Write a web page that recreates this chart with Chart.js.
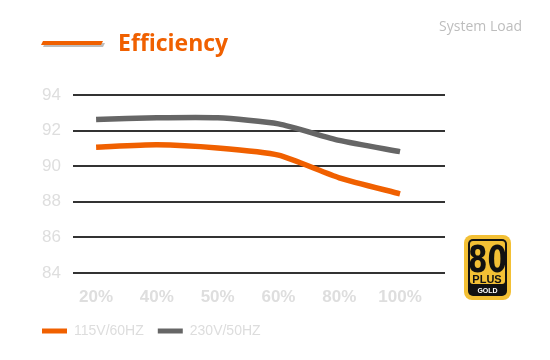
<!DOCTYPE html>
<html>
<head>
<meta charset="utf-8">
<script src="https://cdn.jsdelivr.net/npm/chart.js@4"></script>
<style>
html,body{margin:0;padding:0;background:#fff;}
#wrap{width:550px;height:360px;position:relative;}
</style>
</head>
<body>
<div id="wrap"><canvas id="c" width="550" height="360"></canvas></div>
<script>
const categories = ["20%", "40%", "50%", "60%", "80%", "100%"];
const series115 = [91.07, 91.2, 91.02, 90.62, 89.35, 88.45];
const series230 = [92.62, 92.72, 92.72, 92.38, 91.45, 90.82];
const yTicks = [84, 86, 88, 90, 92, 94];
const seriesNames = ["115V/60HZ", "230V/50HZ"];
const titleText = "Efficiency";
const subtitleText = "System Load";

const ORANGE = "#f06000";
const GREY = "#666666";

const decor = {
  id: "decor",
  afterDraw(chart) {
    const ctx = chart.ctx;
    ctx.save();
    // title decoration bar with shadow
    ctx.fillStyle = "#bdbdbd";
    ctx.beginPath();
    ctx.moveTo(45, 43); ctx.lineTo(105, 43); ctx.lineTo(103, 47); ctx.lineTo(43, 47); ctx.closePath(); ctx.fill();
    ctx.fillStyle = ORANGE;
    ctx.beginPath();
    ctx.moveTo(43, 41); ctx.lineTo(103, 41); ctx.lineTo(101, 45); ctx.lineTo(41, 45); ctx.closePath(); ctx.fill();
    // title
    ctx.fillStyle = ORANGE;
    ctx.font = "bold 23px 'Open Sans', sans-serif";
    ctx.textBaseline = "middle";
    ctx.textAlign = "left";
    ctx.fillText(titleText, 118, 44);
    // subtitle
    ctx.fillStyle = "#bdbdbd";
    ctx.font = "14px 'Open Sans', sans-serif";
    ctx.textAlign = "right";
    ctx.fillText(subtitleText, 522, 27);
    // 80 PLUS GOLD badge
    const rr = (x, y, w, h, r) => { ctx.beginPath(); ctx.roundRect(x, y, w, h, r); };
    ctx.fillStyle = "#f3c035";
    rr(464, 235, 47, 65, 8); ctx.fill();
    ctx.fillStyle = "#111";
    rr(468, 239, 39, 57, 5); ctx.fill();
    ctx.fillStyle = "#f3c035";
    rr(470, 241, 35, 43, 3); ctx.fill();
    ctx.fillStyle = "#111";
    ctx.textAlign = "center";
    ctx.textBaseline = "alphabetic";
    ctx.font = "bold 38px 'Liberation Sans Narrow', 'DejaVu Sans Condensed', sans-serif";
    ctx.save();
    ctx.translate(487.5, 272);
    ctx.scale(0.82, 1);
    ctx.fillText("80", 0, 0);
    ctx.restore();
    ctx.font = "bold 11px 'Liberation Sans', sans-serif";
    ctx.fillText("PLUS", 487, 283);
    ctx.fillStyle = "#fff";
    ctx.font = "bold 7px 'Liberation Sans', sans-serif";
    ctx.fillText("GOLD", 487.5, 293);
    ctx.restore();
  }
};

new Chart(document.getElementById("c"), {
  type: "line",
  data: {
    labels: categories,
    datasets: [
      { label: seriesNames[0], data: series115.map((v, i) => ({ x: i, y: v })), borderColor: ORANGE, backgroundColor: ORANGE, borderWidth: 5.5, pointRadius: 0, tension: 0.2, borderCapStyle: "butt" },
      { label: seriesNames[1], data: series230.map((v, i) => ({ x: i, y: v })), borderColor: GREY, backgroundColor: GREY, borderWidth: 5.5, pointRadius: 0, tension: 0.2, borderCapStyle: "butt" }
    ]
  },
  options: {
    responsive: false,
    animation: false,
    devicePixelRatio: 1,
    layout: { padding: { top: 95, left: 28, right: 105, bottom: 12 } },
    plugins: {
      legend: {
        position: "bottom",
        align: "start",
        labels: {
          boxWidth: 25, boxHeight: 5, padding: 14,
          color: "#dddddd",
          font: { family: "'Liberation Sans', Arial, sans-serif", size: 14 },
          generateLabels(chart) {
            return chart.data.datasets.map((ds, i) => ({
              text: ds.label, fillStyle: ds.borderColor, strokeStyle: ds.borderColor,
              lineWidth: 0, hidden: false, datasetIndex: i, fontColor: "#dddddd"
            }));
          }
        }
      },
      tooltip: { enabled: false }
    },
    scales: {
      x: {
        type: "linear",
        min: -0.38, max: 5.74,
        afterBuildTicks(axis) { axis.ticks = categories.map((c, i) => ({ value: i })); },
        ticks: {
          callback: (v) => categories[v],
          color: "#dedede",
          padding: 14,
          maxRotation: 0,
          font: { family: "'Liberation Sans', Arial, sans-serif", size: 17, weight: "bold" }
        },
        grid: { display: false, drawTicks: false },
        border: { display: false },
        afterFit(axis) { axis.height = 37; }
      },
      y: {
        min: 84, max: 94,
        afterBuildTicks(axis) { axis.ticks = yTicks.map(v => ({ value: v })); },
        ticks: {
          color: "#dedede",
          padding: 12,
          font: { family: "'Liberation Sans', Arial, sans-serif", size: 17 }
        },
        grid: { color: "#333333", lineWidth: 2, drawTicks: false },
        border: { display: false },
        afterFit(axis) { axis.width = 45; }
      }
    }
  },
  plugins: [decor]
});
</script>
</body>
</html>
